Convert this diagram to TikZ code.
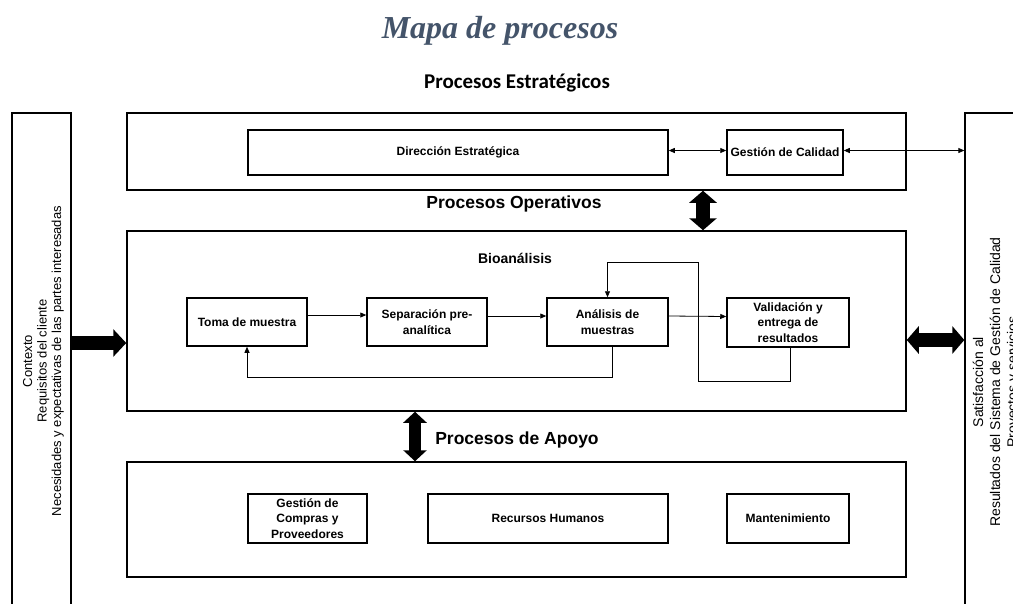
\documentclass[tikz,border=0pt]{standalone}
\usepackage{fontspec}
\setmainfont{Liberation Sans}
\newfontfamily\titlefont{Liberation Serif}
\newfontfamily\calibrifont{Carlito}
\usetikzlibrary{arrows.meta,calc}
\definecolor{titleblue}{RGB}{68,84,106}
\begin{document}
\begin{tikzpicture}[x=1pt,y=-1pt,
  outerbox/.style={draw, line width=1.5pt, inner sep=0pt},
  sidebox/.style={draw, line width=1.3pt, inner sep=0pt},
  procbox/.style={draw, line width=1.5pt, align=center, inner sep=0pt,
    font=\fontsize{12}{15.5}\selectfont\bfseries},
  thinarrow/.style={line width=0.8pt, -{Triangle[length=6pt,width=5pt]}},
  thindouble/.style={line width=0.8pt, {Triangle[length=6pt,width=5pt]}-{Triangle[length=6pt,width=5pt]}},
  bigarrow/.style={line width=14pt, -{Triangle[length=13pt,width=27pt]}},
  bigdouble/.style={line width=14pt, {Triangle[length=12pt,width=27pt]}-{Triangle[length=12pt,width=27pt]}},
  heading/.style={font=\fontsize{17.5}{20}\selectfont\bfseries},
  sidetext/.style={align=center, rotate=90, inner sep=0pt}
]
\useasboundingbox (0,0) rectangle (1013,603);
\clip (0,0) rectangle (1013,603);

% title and headings
\node[font=\titlefont\fontsize{32}{36}\selectfont\bfseries\itshape, text=titleblue] (title) at (500,31) {Mapa de procesos};
\node[font=\calibrifont\fontsize{21}{24}\selectfont\bfseries] (hest) at (517,83) {Procesos Estratégicos};

% outer boxes
\node[outerbox, minimum width=779pt, minimum height=77pt] (estr) at (516.5,151.5) {};
\node[outerbox, minimum width=779pt, minimum height=180pt] (oper) at (516.5,321) {};
\node[outerbox, minimum width=779pt, minimum height=115pt] (apoyo) at (516.5,519.5) {};

% side boxes
\node[sidebox, minimum width=59pt, minimum height=520pt] (ctxbox) at (41.5,373) {};
\node[sidebox, minimum width=100pt, minimum height=520pt] (satbox) at (1015,373) {};
\node[sidetext, font=\fontsize{13}{14.5}\selectfont] (ctx) at (43.5,361)
  {Contexto\\Requisitos del cliente\\Necesidades y expectativas de las partes interesadas};
\node[sidetext, font=\fontsize{14}{17}\selectfont] (sat) at (996.5,382)
  {Satisfacción al\\Resultados del Sistema de Gestión de Calidad\\Proyectos y servicios};

% strategic
\node[procbox, minimum width=420pt, minimum height=45pt] (dir) at (458,152.5) {Dirección Estratégica};
\node[procbox, minimum width=116pt, minimum height=45pt] (gcal) at (785,152.5) {Gestión de Calidad};
\draw[thindouble] ([yshift=2pt]dir.east) -- ([yshift=2pt]gcal.west);
\draw[thindouble] ([yshift=2pt]gcal.east) -- ([yshift=2pt]satbox.west |- gcal.east);

% operative
\node[heading] (hop) at (514,204) {Procesos Operativos};
\coordinate (ax1) at (703,0);
\draw[bigdouble] (estr.south -| ax1) -- (oper.north -| ax1);
\node[font=\fontsize{14}{16}\selectfont\bfseries] (bio) at (515,258) {Bioanálisis};

\node[procbox, minimum width=120pt, minimum height=48pt] (toma) at (247,322) {Toma de muestra};
\node[procbox, minimum width=120pt, minimum height=48pt] (sep) at (427,322) {Separación pre-\\analítica};
\node[procbox, minimum width=121pt, minimum height=48pt] (ana) at (607.5,322) {Análisis de\\muestras};
\node[procbox, minimum width=122pt, minimum height=49pt] (val) at (788,322.5) {Validación y\\entrega de\\resultados};

\draw[thinarrow] ([yshift=7pt]toma.east) -- ([yshift=7pt]sep.west);
\draw[thinarrow] ([yshift=6pt]sep.east) -- ([yshift=6pt]ana.west);
\draw[thinarrow] ([yshift=6pt]ana.east) -- ([yshift=6pt]val.west);
\draw[thinarrow] ([xshift=5pt]ana.south) -- ++(0,31) -| (toma.south);
\coordinate (r0) at (698,381);
\coordinate (r1) at (698,262);
\draw[thinarrow] ([xshift=2pt]val.south) |- (r0) -- (r1) -| (ana.north);

% side arrows
\coordinate (la) at (0,343);
\coordinate (ra) at (0,340);
\draw[bigarrow] (ctxbox.east |- la) -- (oper.west |- la);
\draw[bigdouble] (oper.east |- ra) -- (satbox.west |- ra);

% support
\coordinate (ax2) at (415,0);
\draw[bigdouble, line width=12pt, {Triangle[length=11pt,width=23pt]}-{Triangle[length=11pt,width=23pt]}] (oper.south -| ax2) -- (apoyo.north -| ax2);
\node[heading] (hap) at (517,440) {Procesos de Apoyo};

\node[procbox, minimum width=119pt, minimum height=49pt] (comp) at (307.5,518.5) {Gestión de\\Compras y\\Proveedores};
\node[procbox, minimum width=240pt, minimum height=49pt] (rrhh) at (548,518.5) {Recursos Humanos};
\node[procbox, minimum width=122pt, minimum height=49pt] (mant) at (788,518.5) {Mantenimiento};
\end{tikzpicture}
\end{document}
